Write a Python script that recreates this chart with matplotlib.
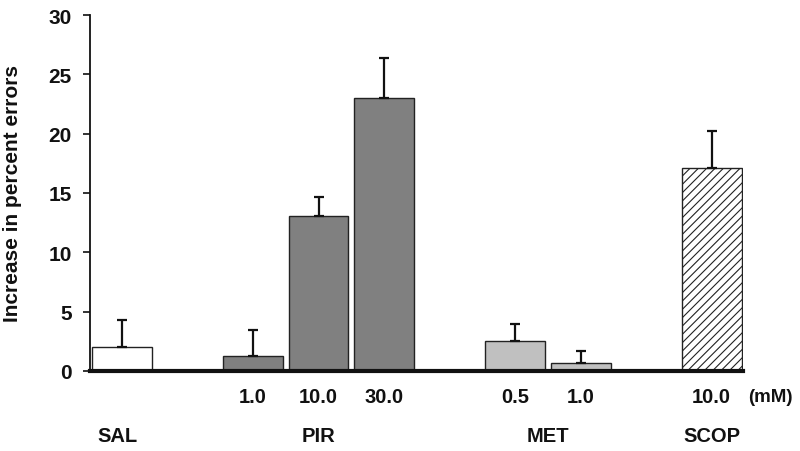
import matplotlib
matplotlib.use("Agg")
import matplotlib.pyplot as plt

plt.rcParams['font.family'] = ['Liberation Sans', 'DejaVu Sans']
plt.rcParams['hatch.linewidth'] = 0.8

# Data
groups = ["SAL", "PIR", "MET", "SCOP"]
doses = ["", "1.0", "10.0", "30.0", "0.5", "1.0", "10.0"]
bar_group = ["SAL", "PIR", "PIR", "PIR", "MET", "MET", "SCOP"]
values = [2.0, 1.25, 13.1, 23.0, 2.5, 0.7, 17.1]
errors = [2.3, 2.2, 1.6, 3.4, 1.5, 0.95, 3.1]
slots = [0, 2, 3, 4, 6, 7, 9]

colors = {"SAL": "white", "PIR": "#808080", "MET": "#c0c0c0", "SCOP": "white"}
hatches = {"SAL": None, "PIR": None, "MET": None, "SCOP": "////"}

fig = plt.figure(figsize=(8, 4.52), dpi=100)
ax = fig.add_axes([0.1125, 0.177, 0.929 - 0.1125, 0.9646 - 0.177])

for x, v, e, g in zip(slots, values, errors, bar_group):
    ax.bar(x, v, width=0.91, color=colors[g], edgecolor="#222222",
           linewidth=1.0, hatch=hatches[g], zorder=2)
    ax.errorbar(x, v, yerr=[[0], [e]], fmt="none", ecolor="#111111",
                elinewidth=1.6, capsize=3.5, capthick=1.6, zorder=3)

ax.set_xlim(-0.489, 9.48)
ax.set_ylim(0, 30)
ax.set_yticks([0, 5, 10, 15, 20, 25, 30])
for lab in ax.get_yticklabels():
    lab.set_fontweight("bold")
ax.tick_params(axis="y", labelsize=15, length=5, width=1.2, pad=8, colors="#111111")
ax.set_xticks([])
for s in ["top", "right"]:
    ax.spines[s].set_visible(False)
ax.spines["left"].set_linewidth(1.3)
ax.spines["bottom"].set_linewidth(3)
ax.spines["left"].set_color("#111111")
ax.spines["bottom"].set_color("#111111")
ax.spines["bottom"].set_zorder(4)

ax.set_ylabel("Increase in percent errors", fontsize=15, fontweight="bold",
              color="#111111")
ax.yaxis.set_label_coords(-0.104, 0.5)

tr = ax.get_xaxis_transform()
for x, d in zip(slots, doses):
    if d:
        ax.text(x, -0.073, d, transform=tr, ha="center", va="center",
                fontsize=14.5, fontweight="bold", color="#111111")
ax.text(9.56, -0.073, "(mM)", transform=tr, ha="left", va="center",
        fontsize=13.5, fontweight="bold", color="#111111", clip_on=False)

group_x = {"SAL": -0.07, "PIR": 3, "MET": 6.5, "SCOP": 9}
for g in groups:
    ax.text(group_x[g], -0.18, g, transform=tr, ha="center", va="center",
            fontsize=14.5, fontweight="bold", color="#111111")

fig.savefig("out.png", dpi=100)
